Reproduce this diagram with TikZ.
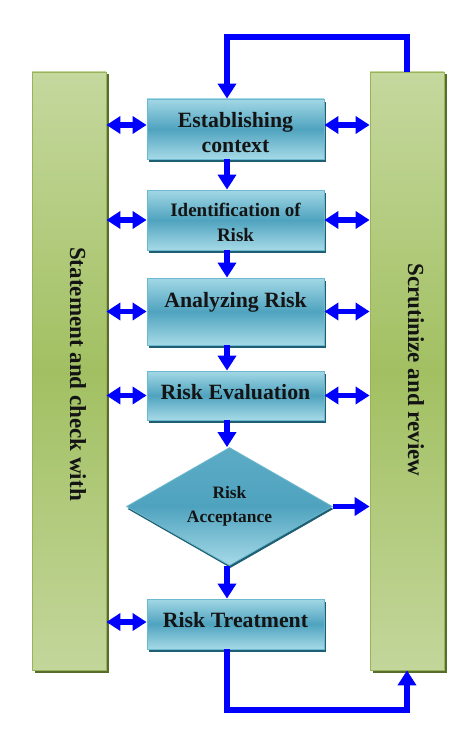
\documentclass[tikz,border=0pt]{standalone}
\usepackage{fontspec}
\setmainfont{Liberation Serif}
\usetikzlibrary{arrows.meta,shapes.geometric,shadows,calc}
\definecolor{btop}{HTML}{A3D8E6}
\definecolor{bmid}{HTML}{4FA3BF}
\definecolor{bbot}{HTML}{A6DAE7}
\definecolor{bline}{HTML}{6BB8CF}
\definecolor{bshadow}{HTML}{1F5F73}
\definecolor{gtop}{HTML}{C5D89E}
\definecolor{gmid}{HTML}{A2C062}
\definecolor{gbot}{HTML}{C3D69B}
\definecolor{gline}{HTML}{98B45A}
\definecolor{gshadow}{HTML}{566D2C}
\definecolor{flowblue}{HTML}{0000FF}
\definecolor{txt}{HTML}{141414}
\begin{document}
\begin{tikzpicture}[x=1pt,y=-1pt,
  bluebox/.style={draw=bline, line width=0.8pt, top color=btop, bottom color=bbot, middle color=bmid,
    minimum width=177pt, inner sep=0pt, align=center, text=txt,
    font=\bfseries\fontsize{21.8}{25}\selectfont,
    drop shadow={shadow xshift=1.5pt, shadow yshift=-3pt, opacity=1, fill=bshadow}},
  decision/.style={diamond, draw=bline, line width=0.8pt, top color=bmid!85!btop, bottom color=bbot, middle color=bmid,
    minimum width=206pt, minimum height=118pt, aspect=1.75, inner sep=0pt, align=center, text=txt,
    font=\bfseries\fontsize{17.4}{24}\selectfont,
    drop shadow={shadow xshift=1pt, shadow yshift=-2.5pt, opacity=1, fill=bshadow}},
  greenbar/.style={draw=gline, line width=0.8pt, top color=gtop, bottom color=gbot, middle color=gmid,
    minimum width=74pt, minimum height=598pt, inner sep=0pt,
    drop shadow={shadow xshift=2.5pt, shadow yshift=-2.5pt, opacity=1, fill=gshadow}},
  bartext/.style={rotate=-90, text=txt, font=\bfseries\fontsize{23}{27}\selectfont},
  flow/.style={draw=flowblue, line width=5.5pt},
  tip/.style={-{Triangle[length=15pt,width=18pt]}},
  dtip/.style={{Triangle[length=14pt,width=17pt]}-{Triangle[length=14pt,width=17pt]}}
]
\useasboundingbox (0,0) rectangle (474,733);

% side bars
\node[greenbar] (L) at (69,371) {};
\node[greenbar] (R) at (407,371) {};
\node[bartext] (Lt) at (78,374) {Statement and check with};
\node[bartext] (Rt) at (416,370) {Scrutinize and review};

% process boxes
\node[bluebox, minimum height=60pt, text height=48pt] (b1) at (235.5,129) {Establishing\\context};
\node[bluebox, minimum height=60pt, text height=44pt, font=\bfseries\fontsize{19}{25}\selectfont] (b2) at (235.5,220) {Identification of\\Risk};
\node[bluebox, minimum height=67pt, text depth=23pt] (b3) at (235.5,311.5) {Analyzing Risk};
\node[bluebox, minimum height=49pt, text depth=8pt] (b4) at (235.5,395.5) {Risk Evaluation};
\node[decision] (D) at (229.5,506.5) {Risk\\Acceptance};
\node[bluebox, minimum height=50pt, text depth=9pt] (b5) at (235.5,624) {Risk Treatment};

\coordinate (ax) at (227,0);
\coordinate (tl) at (227,37);
\coordinate (bl) at (407,710);

% main flow
\draw[flow,tip] (b1.south -| ax) -- (b2.north -| ax);
\draw[flow,tip] (b2.south -| ax) -- (b3.north -| ax);
\draw[flow,tip] (b3.south -| ax) -- (b4.north -| ax);
\draw[flow,tip] (b4.south -| ax) -- (D.north -| ax);
\draw[flow,tip] (D.south -| ax) -- (b5.north -| ax);

% loops
\draw[flow,tip] (R.north) |- (tl) -- (b1.north -| tl);
\draw[flow,tip] (b5.south -| ax) |- (bl) -- (R.south);

% left exchanges
\draw[flow,dtip] ([yshift=4pt]b1.west -| L.east) -- ([yshift=4pt]b1.west);
\draw[flow,dtip] (b2.west -| L.east) -- (b2.west);
\draw[flow,dtip] (b3.west -| L.east) -- (b3.west);
\draw[flow,dtip] (b4.west -| L.east) -- (b4.west);
\draw[flow,dtip] ([yshift=2pt]b5.west -| L.east) -- ([yshift=2pt]b5.west);

% right exchanges
\draw[flow,dtip] ([yshift=4pt]b1.east) -- ([yshift=4pt]b1.east -| R.west);
\draw[flow,dtip] (b2.east) -- (b2.east -| R.west);
\draw[flow,dtip] (b3.east) -- (b3.east -| R.west);
\draw[flow,dtip] (b4.east) -- (b4.east -| R.west);
\draw[flow,tip] (D.east) -- (D.east -| R.west);
\end{tikzpicture}
\end{document}
